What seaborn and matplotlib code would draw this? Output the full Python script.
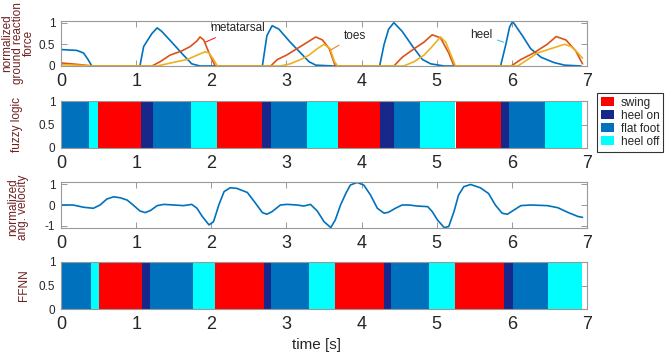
import matplotlib
matplotlib.use("Agg")
import matplotlib.pyplot as plt
import seaborn as sns
from matplotlib.patches import Patch

# --- du lieu doc tu hinh ---
# luc phan hoi mat dat (t [s], gia tri chuan hoa)
heel_t = [0.0, 0.1, 0.21, 0.3, 0.36, 0.41, 1.05, 1.1, 1.21, 1.28, 1.34, 1.5, 1.63, 1.74, 1.85,
          2.68, 2.74, 2.81, 2.9, 3.05, 3.19, 3.3, 3.39, 3.63,
          4.24, 4.3, 4.36, 4.43, 4.54, 4.68, 4.81, 4.92, 5.1,
          5.85, 5.92, 5.97, 6.01, 6.14, 6.25, 6.39, 6.56, 6.7, 6.92]
heel_v = [0.38, 0.37, 0.36, 0.3, 0.15, 0.0, 0.0, 0.45, 0.75, 0.88, 0.8, 0.5, 0.25, 0.05, 0.0,
          0.0, 0.7, 0.93, 0.85, 0.55, 0.3, 0.1, 0.02, 0.0,
          0.0, 0.5, 0.85, 1.0, 0.8, 0.45, 0.15, 0.05, 0.0,
          0.0, 0.5, 0.9, 1.03, 0.7, 0.4, 0.2, 0.08, 0.02, 0.0]

meta_t = [0.0, 0.2, 0.42, 1.21, 1.32, 1.45, 1.61, 1.72, 1.81, 1.85, 1.9, 1.97, 2.05,
          2.79, 2.88, 3.0, 3.14, 3.28, 3.39, 3.48, 3.57, 3.65,
          4.43, 4.54, 4.7, 4.83, 4.94, 5.05, 5.16, 5.23,
          5.99, 6.12, 6.29, 6.47, 6.59, 6.72, 6.85, 6.94]
meta_v = [0.07, 0.04, 0.0, 0.0, 0.1, 0.25, 0.35, 0.45, 0.58, 0.67, 0.6, 0.3, 0.0,
          0.0, 0.15, 0.25, 0.4, 0.55, 0.67, 0.6, 0.4, 0.0,
          0.0, 0.2, 0.4, 0.55, 0.72, 0.65, 0.3, 0.0,
          0.0, 0.15, 0.3, 0.5, 0.68, 0.6, 0.35, 0.05]

toes_t = [0.0, 0.2, 0.4, 1.28, 1.54, 1.68, 1.81, 1.92, 1.97, 2.03, 2.08,
          2.92, 3.05, 3.19, 3.3, 3.41, 3.5, 3.58, 3.64, 3.68,
          4.56, 4.7, 4.83, 4.94, 5.05, 5.12, 5.19, 5.25,
          6.08, 6.21, 6.34, 6.52, 6.7, 6.79, 6.88, 6.94]
toes_v = [0.03, 0.02, 0.0, 0.0, 0.1, 0.15, 0.25, 0.33, 0.3, 0.15, 0.0,
          0.0, 0.05, 0.15, 0.25, 0.4, 0.5, 0.4, 0.1, 0.0,
          0.0, 0.1, 0.25, 0.45, 0.67, 0.55, 0.25, 0.0,
          0.0, 0.15, 0.3, 0.4, 0.5, 0.45, 0.3, 0.18]

# van toc goc chuan hoa
vel_t = [0.01, 0.16, 0.3, 0.43, 0.52, 0.61, 0.7, 0.79, 0.88, 0.96, 1.05, 1.12, 1.19, 1.28, 1.37,
         1.5, 1.63, 1.74, 1.81, 1.88, 1.97, 2.03, 2.1, 2.17, 2.25, 2.34, 2.48, 2.59, 2.68, 2.74,
         2.81, 2.92, 3.01, 3.14, 3.23, 3.32, 3.41, 3.5, 3.59, 3.65, 3.72, 3.79, 3.85, 3.94, 4.03,
         4.12, 4.21, 4.3, 4.36, 4.45, 4.54, 4.63, 4.74, 4.88, 4.94, 5.01, 5.1, 5.16, 5.23, 5.29,
         5.36, 5.45, 5.58, 5.69, 5.78, 5.87, 5.94, 6.03, 6.12, 6.25, 6.47, 6.61, 6.74, 6.88, 6.94]
vel_v = [0.0, 0.0, -0.11, -0.16, 0.0, 0.29, 0.4, 0.35, 0.24, 0.0, -0.29, -0.37, -0.27, -0.03, 0.03,
         0.0, -0.03, 0.03, -0.16, -0.56, -0.97, -0.81, 0.0, 0.65, 0.84, 0.81, 0.61, 0.08, -0.37, -0.45,
         -0.32, 0.0, 0.03, 0.0, -0.05, 0.03, -0.29, -0.81, -1.1, -0.73, 0.0, 0.56, 0.97, 1.1, 0.97,
         0.48, -0.16, -0.4, -0.35, -0.16, 0.0, 0.0, -0.05, -0.08, -0.32, -0.73, -1.1, -1.05, -0.32, 0.48,
         0.89, 1.0, 0.84, 0.56, 0.0, -0.4, -0.45, -0.24, -0.03, 0.0, -0.03, -0.13, -0.35, -0.56, -0.6]

# cac pha buoc di
fuzzy_phase = ['flat foot', 'heel off', 'swing', 'heel on', 'flat foot', 'heel off', 'swing', 'heel on',
               'flat foot', 'heel off', 'swing', 'heel on', 'flat foot', 'heel off', 'swing', 'heel on',
               'flat foot', 'heel off']
fuzzy_edges = [0.0, 0.37, 0.49, 1.06, 1.22, 1.73, 2.08, 2.68, 2.80, 3.28, 3.68, 4.24, 4.43, 4.78,
               5.25, 5.85, 5.96, 6.44, 6.93]
ffnn_phase = fuzzy_phase
ffnn_edges = [0.0, 0.40, 0.51, 1.08, 1.18, 1.76, 2.05, 2.70, 2.80, 3.30, 3.64, 4.30, 4.39, 4.90,
              5.24, 5.89, 6.01, 6.48, 6.93]

phase_names = ['swing', 'heel on', 'flat foot', 'heel off']
phase_colors = {'swing': '#FF0000', 'heel on': '#18288A', 'flat foot': '#0072BD', 'heel off': '#00FFFF'}

# --- ve hinh ---
sns.set_theme(style='white')
plt.rcParams['font.family'] = ['Liberation Sans', 'DejaVu Sans']
plt.rcParams['axes.unicode_minus'] = False

fig = plt.figure(figsize=(6.68, 3.58), dpi=100)
L, W = 61 / 668, 526 / 668
def box(top, bottom):
    return [L, (358 - bottom) / 358, W, (bottom - top) / 358]

ax1 = fig.add_axes(box(20.5, 66))
ax2 = fig.add_axes(box(101, 148))
ax3 = fig.add_axes(box(182, 228))
ax4 = fig.add_axes(box(262, 309))

label_col = '#6e2222'

sns.lineplot(x=heel_t, y=heel_v, ax=ax1, color='#0072BD', lw=1.2, sort=False, estimator=None)
sns.lineplot(x=meta_t, y=meta_v, ax=ax1, color='#D95319', lw=1.2, sort=False, estimator=None)
sns.lineplot(x=toes_t, y=toes_v, ax=ax1, color='#EDB120', lw=1.2, sort=False, estimator=None)
ax1.set_ylim(0, 1.05)
ax1.set_yticks([0, 0.5, 1])
ax1.set_yticklabels(['0', '0.5', '1'])
ax1.annotate('metatarsal', xy=(1.92, 0.55), xytext=(1.99, 0.88), fontsize=8.5, va='center',
             arrowprops=dict(arrowstyle='-', color='#FF2020', lw=0.8, shrinkA=1, shrinkB=0))
ax1.annotate('toes', xy=(3.59, 0.37), xytext=(3.76, 0.69), fontsize=8.5, va='center',
             arrowprops=dict(arrowstyle='-', color='#F08030', lw=0.8, shrinkA=1, shrinkB=0))
ax1.annotate('heel', xy=(5.89, 0.55), xytext=(5.45, 0.72), fontsize=8.5, va='center',
             arrowprops=dict(arrowstyle='-', color='#4DBEEE', lw=0.8, shrinkA=1, shrinkB=0))
ax1.set_ylabel('normalized\nground reaction\nforce', fontsize=8.5, color=label_col, linespacing=0.85)
ax1.yaxis.set_label_coords(-0.05, 0.5)

def draw_phases(ax, phases, edges):
    lefts = edges[:-1]
    widths = [b - a for a, b in zip(edges[:-1], edges[1:])]
    ax.barh([0.5] * len(phases), widths, left=lefts, height=1.0,
            color=[phase_colors[p] for p in phases], edgecolor='none', align='center')
    ax.set_ylim(0, 1)
    ax.set_yticks([0, 0.5, 1])
    ax.set_yticklabels(['0', '0.5', '1'])

draw_phases(ax2, fuzzy_phase, fuzzy_edges)
ax2.set_ylabel('fuzzy logic', fontsize=8.5, color=label_col)
ax2.yaxis.set_label_coords(-0.072, 0.5)

sns.lineplot(x=vel_t, y=vel_v, ax=ax3, color='#0072BD', lw=1.2, sort=False, estimator=None)
ax3.set_ylim(-1.12, 1.12)
ax3.set_yticks([-1, 0, 1])
ax3.set_yticklabels(['-1', '0', '1'])
ax3.set_ylabel('normalized\nang. velocity', fontsize=8.5, color=label_col, linespacing=0.85)
ax3.yaxis.set_label_coords(-0.06, 0.45)

draw_phases(ax4, ffnn_phase, ffnn_edges)
ax4.set_ylabel('FFNN', fontsize=8.5, color=label_col)
ax4.yaxis.set_label_coords(-0.059, 0.5)
ax4.set_xlabel('time [s]', fontsize=11)
ax4.xaxis.set_label_coords(0.485, -0.62)

for ax in (ax1, ax2, ax3, ax4):
    ax.set_xlim(0, 7)
    ax.set_xticks(range(8))
    ax.set_xticklabels([str(i) for i in range(8)])
    ax.tick_params(axis='x', direction='in', top=True, bottom=True, length=4, width=0.6,
                   color='#888888', labelsize=13, pad=5)
    ax.tick_params(axis='y', direction='in', left=True, right=True, length=4, width=0.6,
                   color='#888888', labelsize=8.5, pad=4)
    for s in ax.spines.values():
        s.set_color('#999999')
        s.set_linewidth(0.8)
    ax.grid(False)
    if ax is not ax4:
        ax.set_xlabel('')

handles = [Patch(facecolor=phase_colors[p], edgecolor='none', label=p) for p in phase_names]
leg = fig.legend(handles=handles, loc='upper left', bbox_to_anchor=(597 / 668, (358 - 93) / 358),
                 fontsize=8.5, frameon=True, fancybox=False, borderpad=0.3, labelspacing=0.1,
                 handlelength=1.1, handleheight=0.8, handletextpad=0.6, borderaxespad=0)
leg.get_frame().set_edgecolor('black')
leg.get_frame().set_linewidth(0.8)

fig.savefig('out.png', dpi=100)
